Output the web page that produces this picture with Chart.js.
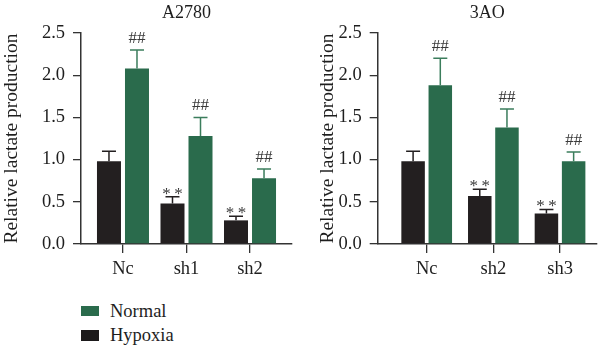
<!DOCTYPE html>
<html>
<head>
<meta charset="utf-8">
<script src="https://cdn.jsdelivr.net/npm/chart.js@4"></script>
<style>
  html, body { margin: 0; padding: 0; background: #fff; }
  body { width: 600px; height: 347px; position: relative; overflow: hidden; font-family: "Liberation Serif", "DejaVu Serif", serif; color: #1e1e1e; }
  .panel { position: absolute; top: 0; width: 300px; height: 290px; }
  .legend-item { position: absolute; left: 81px; height: 22px; display: flex; align-items: center; font-size: 18.5px; }
  .swatch { width: 18px; height: 10px; margin-right: 11px; }
</style>
</head>
<body>
<div class="panel" style="left:0"><canvas id="chartA" width="300" height="290"></canvas></div>
<div class="panel" style="left:300px"><canvas id="chartB" width="300" height="290"></canvas></div>
<div class="legend-item" style="top:300px"><span class="swatch" style="background:#2a6b4c"></span>Normal</div>
<div class="legend-item" style="top:324px"><span class="swatch" style="background:#1c1a1b;height:11px"></span>Hypoxia</div>

<script>
// Group labels for each cell line
const categoriesA = ['Nc', 'sh1', 'sh2'];
const categoriesB = ['Nc', 'sh2', 'sh3'];

// A2780: mean values and upper error limits
const hypoxiaA    = [0.98, 0.48, 0.28];
const hypoxiaErrA = [1.10, 0.56, 0.33];
const normalA     = [2.08, 1.28, 0.78];
const normalErrA  = [2.30, 1.50, 0.89];

// 3AO: mean values and upper error limits
const hypoxiaB    = [0.98, 0.57, 0.36];
const hypoxiaErrB = [1.10, 0.65, 0.41];
const normalB     = [1.88, 1.38, 0.98];
const normalErrB  = [2.20, 1.60, 1.09];

// Y axis ticks
const yTicks = [0.0, 0.5, 1.0, 1.5, 2.0, 2.5];

// Significance marks per group
const hypoxiaMarks = ['', '*\u2009*', '*\u2009*'];
const normalMarks  = ['##', '##', '##'];

const SERIF = '"Liberation Serif", "DejaVu Serif", serif';
const GREEN = '#2a6b4c';
const GREEN_LINE = '#3b7d5c';
const BLACK = '#231f20';
const AXIS = '#333';
const TEXT = '#1e1e1e';

// Upper error bars and significance marks above each bar
const errorBars = {
  id: 'errorBars',
  afterDatasetsDraw(chart) {
    const { ctx } = chart;
    const y = chart.scales.y;
    chart.data.datasets.forEach((ds, di) => {
      const meta = chart.getDatasetMeta(di);
      meta.data.forEach((bar, i) => {
        const top = y.getPixelForValue(ds.errorTop[i]);
        ctx.save();
        ctx.strokeStyle = ds.errorColor;
        ctx.lineWidth = 1.5;
        ctx.beginPath();
        ctx.moveTo(bar.x, bar.y);
        ctx.lineTo(bar.x, top);
        ctx.moveTo(bar.x - 7, top);
        ctx.lineTo(bar.x + 7, top);
        ctx.stroke();
        const mark = ds.marks[i];
        if (mark) {
          ctx.fillStyle = '#3a3a3a';
          ctx.font = '17px ' + SERIF;
          ctx.textAlign = 'center';
          ctx.textBaseline = 'alphabetic';
          const lift = mark === '##' ? 7 : -2;
          ctx.fillText(mark, bar.x, top - lift);
        }
        ctx.restore();
      });
    });
  }
};

function makeChart(id, title, cats, hyp, hypErr, nor, norErr, xr, layout) {
  const toPoints = arr => arr.map((v, i) => ({ x: i, y: v }));
  return new Chart(document.getElementById(id), {
    type: 'bar',
    data: {
      datasets: [
        { label: 'Hypoxia', data: toPoints(hyp), errorTop: hypErr, marks: hypoxiaMarks,
          backgroundColor: BLACK, errorColor: BLACK,
          categoryPercentage: layout.cat, barPercentage: layout.bar },
        { label: 'Normal', data: toPoints(nor), errorTop: norErr, marks: normalMarks,
          backgroundColor: GREEN, errorColor: GREEN_LINE,
          categoryPercentage: layout.cat, barPercentage: layout.bar }
      ]
    },
    options: {
      responsive: false,
      animation: false,
      layout: { padding: { left: layout.padLeft, right: layout.padRight, top: 0, bottom: 0 } },
      plugins: {
        legend: { display: false },
        tooltip: { enabled: false },
        title: {
          display: true, text: title, fullSize: false, color: TEXT,
          font: { family: SERIF, size: 18, weight: 'normal' },
          padding: { top: 2, bottom: 9.4 }
        }
      },
      scales: {
        x: {
          type: 'linear', min: xr[0], max: xr[1], offset: false,
          afterBuildTicks: s => { s.ticks = cats.map((_, i) => ({ value: i })); },
          afterFit: s => { s.height = 46; },
          ticks: {
            callback: v => cats[v] ?? '',
            color: TEXT, padding: 5, maxRotation: 0,
            font: { family: SERIF, size: 18.5 }
          },
          grid: { offset: false, drawOnChartArea: false, drawTicks: true, tickLength: 9, color: AXIS, lineWidth: 1.3 },
          border: { display: true, color: AXIS, width: 1.5 }
        },
        y: {
          min: 0, max: 2.5,
          afterBuildTicks: s => { s.ticks = yTicks.map(v => ({ value: v })); },
          afterFit: s => { s.width = layout.yWidth; },
          ticks: {
            callback: v => v.toFixed(1),
            color: TEXT, padding: 8,
            font: { family: SERIF, size: 18.5 }
          },
          grid: { drawOnChartArea: false, drawTicks: true, tickLength: 8, color: AXIS, lineWidth: 1.3 },
          border: { display: true, color: AXIS, width: 1.5 },
          title: {
            display: true, text: 'Relative lactate production', color: TEXT,
            font: { family: SERIF, size: 19.5 },
            padding: { top: layout.titlePad, bottom: 0 }
          }
        }
      }
    },
    plugins: [errorBars]
  });
}

makeChart('chartA', 'A2780', categoriesA, hypoxiaA, hypoxiaErrA, normalA, normalErrA,
  [-0.661, 2.661], { cat: 0.882, bar: 0.857, padLeft: 0, padRight: 8, yWidth: 81, titlePad: 0 });
makeChart('chartB', '3AO', categoriesB, hypoxiaB, hypoxiaErrB, normalB, normalErrB,
  [-0.735, 2.55], { cat: 0.816, bar: 0.864, padLeft: 0, padRight: 3.3, yWidth: 77.7, titlePad: 16 });
</script>
</body>
</html>
